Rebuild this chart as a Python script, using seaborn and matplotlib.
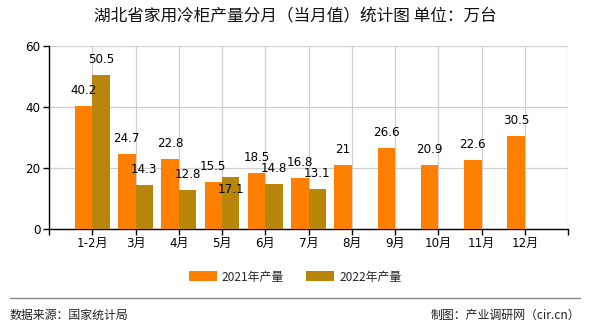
import matplotlib
matplotlib.use("Agg")
import matplotlib.pyplot as plt
from matplotlib.container import BarContainer
import seaborn as sns
import pandas as pd
import numpy as np

months = ["1-2月", "3月", "4月", "5月", "6月", "7月", "8月", "9月", "10月", "11月", "12月"]
y2021 = [40.2, 24.7, 22.8, 15.5, 18.5, 16.8, 21, 26.6, 20.9, 22.6, 30.5]
y2022 = [50.5, 14.3, 12.8, 17.1, 14.8, 13.1, None, None, None, None, None]
series_names = ["2021年产量", "2022年产量"]
colors = ["#FF8000", "#B8860B"]
title = "湖北省家用冷柜产量分月（当月值）统计图 单位：万台"
source_left = "数据来源：国家统计局"
source_right = "制图：产业调研网（cir.cn）"

sns.set_theme(style="white")
plt.rcParams["font.family"] = ["DejaVu Sans", "Noto Sans CJK SC"]
plt.rcParams["axes.unicode_minus"] = False

rows = []
for m, a, b in zip(months, y2021, y2022):
    rows.append({"month": m, "series": series_names[0], "value": a})
    if b is not None:
        rows.append({"month": m, "series": series_names[1], "value": b})
df = pd.DataFrame(rows)

fig = plt.figure(figsize=(5.9, 3.3), dpi=100)
ax = fig.add_axes([49/590, 1-229/330, (568-49)/590, (229-46)/330])

sns.barplot(data=df, x="month", y="value", hue="series", order=months,
            hue_order=series_names, palette=colors, width=0.8, dodge=True,
            saturation=1, ax=ax, legend=False, zorder=3, errorbar=None,
            linewidth=0, edgecolor="none")

n = len(months)
ax.set_xlim(-1, n)
ax.set_ylim(0, 60)
ax.set_yticks([0, 20, 40, 60])
ax.set_xticks(range(-1, n + 1))
ax.set_xticklabels([""] + months + [""])
ax.set_xlabel("")
ax.set_ylabel("")

ax.grid(True, axis="both", color="#d0d0d0", linewidth=0.9, zorder=0)
ax.set_axisbelow(True)
for s in ["top", "right"]:
    ax.spines[s].set_visible(False)
for s in ["left", "bottom"]:
    ax.spines[s].set_color("black")
    ax.spines[s].set_linewidth(1.0)
ax.tick_params(axis="both", which="major", length=4, width=1, color="black",
               labelsize=8.6, labelcolor="black", direction="out", bottom=True, left=True)
ax.tick_params(axis="x", pad=2)
ax.tick_params(axis="y", pad=2)
for lbl in ax.get_xticklabels() + ax.get_yticklabels():
    lbl.set_family(["DejaVu Sans", "Noto Sans CJK SC"])

# value labels
bar_conts = [c for c in ax.containers if isinstance(c, BarContainer)]
for ci, cont in enumerate(bar_conts):
    vals = y2021 if ci == 0 else y2022
    for bar in cont:
        if bar is None:
            continue
        h = bar.get_height()
        if h is None or np.isnan(h):
            continue
        idx = int(round(bar.get_x() + bar.get_width() / 2))
        v = vals[idx]
        if v is None:
            continue
        dy = 6.5
        if ci == 1 and idx == 3:
            dy = -14  # label pushed inside the bar (overlap avoidance in original)
        ax.annotate(f"{v:g}", (bar.get_x() + bar.get_width() / 2, h),
                    xytext=(0, dy), textcoords="offset points", ha="center",
                    va="bottom", fontsize=8.6, color="black", zorder=5)

fig.text(0.5, 1-17/330, title, ha="center", va="center", fontsize=12,
         family=["Noto Sans CJK SC", "DejaVu Sans"], color="#111111")

# legend
from matplotlib.patches import Patch
handles = [Patch(facecolor=c, edgecolor="none") for c in colors]
fig.legend(handles, series_names, loc="center", bbox_to_anchor=(0.5, 1-277/330),
           ncol=2, frameon=False, handlelength=2.4, handleheight=0.9,
           handletextpad=0.4, columnspacing=1.8,
           prop={"family": ["Noto Sans CJK SC", "DejaVu Sans"], "size": 8.6})

# footer
fig.add_artist(plt.Line2D([10/590, 580/590], [1-298/330, 1-298/330], color="#888888",
                          linewidth=1, transform=fig.transFigure))
fig.text(10/590, 1-315/330, source_left, ha="left", va="center", fontsize=8.6,
         family=["Noto Sans CJK SC", "DejaVu Sans"], color="#222222")
fig.text(580/590, 1-315/330, source_right, ha="right", va="center", fontsize=8.6,
         family=["Noto Sans CJK SC", "DejaVu Sans"], color="#222222")

fig.savefig("out.png", dpi=100)
